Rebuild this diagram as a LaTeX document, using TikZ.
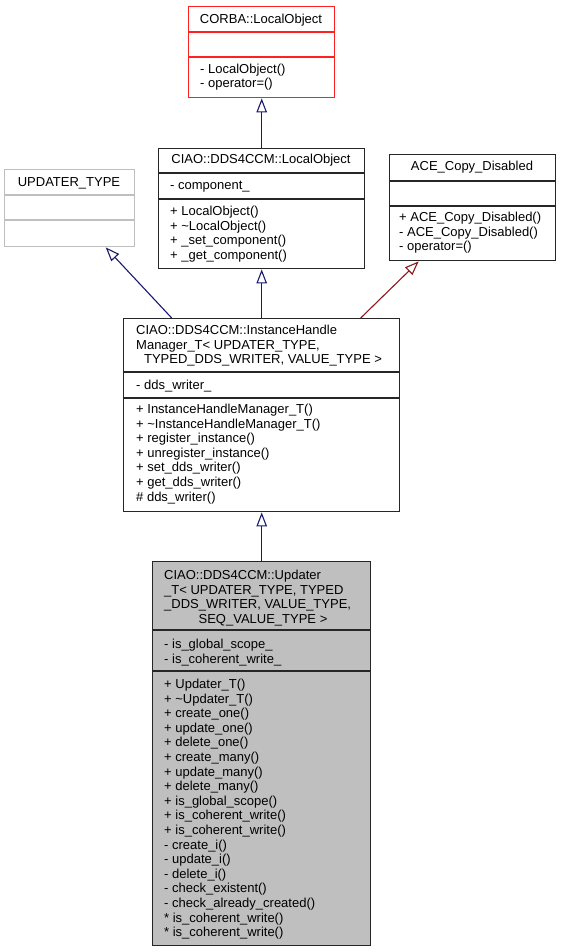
\documentclass[tikz,border=0pt]{standalone}
\usepackage{fontspec}
\setmainfont{Liberation Sans}
\usetikzlibrary{arrows.meta}

\definecolor{inhblue}{HTML}{191970}
\definecolor{inhred}{HTML}{8B1A1A}
\definecolor{boxgray}{HTML}{BFBFBF}
\definecolor{boxred}{HTML}{FF2020}

\tikzset{
  classbox/.style={draw=black!85, line width=1.4pt, inner sep=0pt, anchor=north west},
  sepline/.style={line width=1.4pt},
  memb/.style={anchor=base west, inner sep=0pt, font=\fontsize{13}{14.6}\selectfont},
  ttl/.style={anchor=base, inner sep=0pt, font=\fontsize{13}{14.6}\selectfont},
  inherit/.style={-{Triangle[open, length=14pt, width=10.5pt, fill=white]}, line width=1.1pt, draw=inhblue},
  privinherit/.style={inherit, draw=inhred},
}

\begin{document}
\begin{tikzpicture}[x=1pt, y=-1pt]
    \useasboundingbox (0,0) rectangle (560,952);

    % CORBA::LocalObject
    \node[classbox, draw=boxred, minimum width=146pt, minimum height=91pt] (corba) at (188,6) {};
    \draw[sepline, boxred] (188,32) -- (334,32);
    \draw[sepline, boxred] (188,57) -- (334,57);
    \node[ttl] (corba-t) at (261,23.5) {CORBA::LocalObject};
    \node[memb] (corba-m0) at (200,73.5) {- LocalObject()};
    \node[memb] (corba-m1) at (200,88) {- operator=()};

    % CIAO::DDS4CCM::LocalObject
    \node[classbox, minimum width=206pt, minimum height=120pt] (ciaolo) at (158,148) {};
    \draw[sepline, black!85] (158,173) -- (364,173);
    \draw[sepline, black!85] (158,199) -- (364,199);
    \node[ttl] (ciaolo-t) at (261,164) {CIAO::DDS4CCM::LocalObject};
    \node[memb] (ciaolo-a0) at (170,189.5) {- component\_};
    \foreach \m [count=\i from 0] in {{+ LocalObject()}, {+ \textasciitilde LocalObject()},
        {+ \_set\_component()}, {+ \_get\_component()}}
      \node[memb] (ciaolo-m\i) at (170,{215.5+14.6*\i}) {\m};

    % UPDATER_TYPE
    \node[classbox, draw=boxgray, minimum width=130pt, minimum height=77pt] (updtype) at (4,169) {};
    \draw[sepline, boxgray] (4,195) -- (134,195);
    \draw[sepline, boxgray] (4,220) -- (134,220);
    \node[ttl] (updtype-t) at (69,186.5) {UPDATER\_TYPE};

    % ACE_Copy_Disabled
    \node[classbox, minimum width=166pt, minimum height=106pt] (ace) at (389,154) {};
    \draw[sepline, black!85] (389,181) -- (555,181);
    \draw[sepline, black!85] (389,206) -- (555,206);
    \node[ttl] (ace-t) at (472,170.5) {ACE\_Copy\_Disabled};
    \foreach \m [count=\i from 0] in {{+ ACE\_Copy\_Disabled()}, {- ACE\_Copy\_Disabled()}, {- operator=()}}
      \node[memb] (ace-m\i) at (399,{221.5+14.6*\i}) {\m};

    % CIAO::DDS4CCM::InstanceHandleManager_T
    \node[classbox, minimum width=276pt, minimum height=193pt] (ihm) at (123,318) {};
    \draw[sepline, black!85] (123,372) -- (399,372);
    \draw[sepline, black!85] (123,398) -- (399,398);
    \node[memb] (ihm-t0) at (136,334.5) {CIAO::DDS4CCM::InstanceHandle};
    \node[memb] (ihm-t1) at (136,349) {Manager\_T< UPDATER\_TYPE,};
    \node[ttl] (ihm-t2) at (263,363.5) {TYPED\_DDS\_WRITER, VALUE\_TYPE >};
    \node[memb] (ihm-a0) at (136,389.5) {- dds\_writer\_};
    \foreach \m [count=\i from 0] in {{+ InstanceHandleManager\_T()}, {+ \textasciitilde InstanceHandleManager\_T()},
        {+ register\_instance()}, {+ unregister\_instance()}, {+ set\_dds\_writer()},
        {+ get\_dds\_writer()}, {\# dds\_writer()}}
      \node[memb] (ihm-m\i) at (136,{413.5+14.6*\i}) {\m};

    % CIAO::DDS4CCM::Updater_T
    \node[classbox, fill=boxgray, minimum width=218pt, minimum height=384pt] (upd) at (152,561) {};
    \draw[sepline, black!85] (152,630) -- (370,630);
    \draw[sepline, black!85] (152,671) -- (370,671);
    \node[memb] (upd-t0) at (164,579.5) {CIAO::DDS4CCM::Updater};
    \node[memb] (upd-t1) at (164,594) {\_T< UPDATER\_TYPE, TYPED};
    \node[memb] (upd-t2) at (164,608.5) {\_DDS\_WRITER, VALUE\_TYPE,};
    \node[ttl] (upd-t3) at (263,623) {SEQ\_VALUE\_TYPE >};
    \node[memb] (upd-a0) at (164,648.5) {- is\_global\_scope\_};
    \node[memb] (upd-a1) at (164,663) {- is\_coherent\_write\_};
    \foreach \m [count=\i from 0] in {{+ Updater\_T()}, {+ \textasciitilde Updater\_T()},
        {+ create\_one()}, {+ update\_one()}, {+ delete\_one()}, {+ create\_many()},
        {+ update\_many()}, {+ delete\_many()}, {+ is\_global\_scope()},
        {+ is\_coherent\_write()}, {+ is\_coherent\_write()}, {- create\_i()},
        {- update\_i()}, {- delete\_i()}, {- check\_existent()},
        {- check\_already\_created()}, {* is\_coherent\_write()}, {* is\_coherent\_write()}}
      \node[memb] (upd-m\i) at (164,{688.5+14.6*\i}) {\m};

    % inheritance arrows
    \draw[inherit] (ciaolo.north) -- (corba.south);
    \draw[inherit] (ihm.north) -- (ciaolo.south);
    \draw[inherit] ([xshift=-90pt]ihm.north) -- ([xshift=36pt]updtype.south);
    \draw[privinherit] ([xshift=99pt]ihm.north) -- ([xshift=-54pt]ace.south);
    \draw[inherit] (upd.north) -- (ihm.south);
\end{tikzpicture}
\end{document}
